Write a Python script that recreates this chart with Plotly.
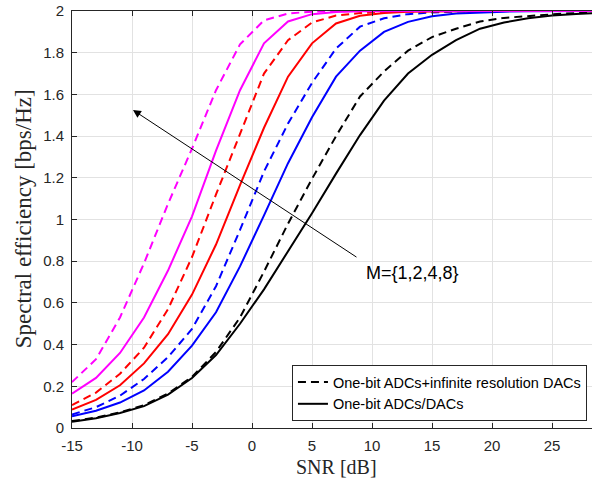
import plotly.graph_objects as go

snr = [-15, -13, -11, -9, -7, -5, -3, -1, 1, 3, 5, 7, 9, 11, 13, 15, 17, 19, 21, 23, 25, 27, 29]

# One-bit ADCs/DACs (solid)
m1_solid = [0.03, 0.047, 0.072, 0.105, 0.16, 0.24, 0.35, 0.50, 0.665, 0.845, 1.03, 1.22, 1.405, 1.57, 1.70, 1.79, 1.86, 1.915, 1.945, 1.965, 1.978, 1.986, 1.99]
m2_solid = [0.056, 0.083, 0.122, 0.18, 0.27, 0.395, 0.555, 0.775, 1.02, 1.27, 1.49, 1.685, 1.81, 1.9, 1.948, 1.975, 1.988, 1.994, 1.997, 1.999, 2.0, 2.0, 2.0]
m4_solid = [0.088, 0.135, 0.205, 0.31, 0.45, 0.64, 0.88, 1.165, 1.44, 1.685, 1.845, 1.94, 1.977, 1.99, 1.996, 1.998, 2.0, 2.0, 2.0, 2.0, 2.0, 2.0, 2.0]
m8_solid = [0.165, 0.24, 0.36, 0.53, 0.755, 1.015, 1.33, 1.62, 1.845, 1.95, 1.985, 1.995, 1.999, 2.0, 2.0, 2.0, 2.0, 2.0, 2.0, 2.0, 2.0, 2.0, 2.0]

# One-bit ADCs + infinite resolution DACs (dashed)
m1_dash = [0.033, 0.05, 0.075, 0.11, 0.165, 0.245, 0.365, 0.53, 0.75, 0.98, 1.195, 1.40, 1.59, 1.71, 1.81, 1.875, 1.915, 1.95, 1.967, 1.977, 1.984, 1.99, 1.994]
m2_dash = [0.065, 0.10, 0.155, 0.235, 0.34, 0.475, 0.68, 0.95, 1.23, 1.46, 1.655, 1.82, 1.925, 1.965, 1.985, 1.993, 1.997, 2.0, 2.0, 2.0, 2.0, 2.0, 2.0]
m4_dash = [0.11, 0.17, 0.26, 0.385, 0.57, 0.82, 1.12, 1.41, 1.70, 1.86, 1.945, 1.978, 1.99, 1.996, 1.998, 2.0, 2.0, 2.0, 2.0, 2.0, 2.0, 2.0, 2.0]
m8_dash = [0.22, 0.33, 0.53, 0.79, 1.075, 1.34, 1.62, 1.84, 1.955, 1.988, 1.997, 2.0, 2.0, 2.0, 2.0, 2.0, 2.0, 2.0, 2.0, 2.0, 2.0, 2.0, 2.0]

x_ticks = [-15, -10, -5, 0, 5, 10, 15, 20, 25]
x_tick_labels = ["-15", "-10", "-5", "0", "5", "10", "15", "20", "25"]
y_ticks = [0, 0.2, 0.4, 0.6, 0.8, 1, 1.2, 1.4, 1.6, 1.8, 2]
y_tick_labels = ["0", "0.2", "0.4", "0.6", "0.8", "1", "1.2", "1.4", "1.6", "1.8", "2"]

legend_dash = "One-bit ADCs+infinite resolution DACs"
legend_solid = "One-bit ADCs/DACs"
annot_text = "M={1,2,4,8}"

DASH = "8px,5px"
fig = go.Figure()

series = [
    (m1_dash, "black", DASH, True, legend_dash),
    (m1_solid, "black", "solid", True, legend_solid),
    (m2_dash, "#0000ff", DASH, False, None),
    (m2_solid, "#0000ff", "solid", False, None),
    (m4_dash, "#ff0000", DASH, False, None),
    (m4_solid, "#ff0000", "solid", False, None),
    (m8_dash, "#ff00ff", DASH, False, None),
    (m8_solid, "#ff00ff", "solid", False, None),
]
for vals, col, dash, show, name in series:
    fig.add_trace(go.Scatter(
        x=snr, y=vals, mode="lines",
        line=dict(color=col, width=2, dash=dash),
        showlegend=show, name=name if name else "",
    ))

axis_col = "#262626"
fig.update_xaxes(
    range=[-15, 28.33], tickvals=x_ticks, ticktext=x_tick_labels,
    showgrid=True, gridcolor="#e2e2e2", gridwidth=1, zeroline=False,
    showline=True, linecolor=axis_col, linewidth=1, mirror="ticks",
    ticks="inside", ticklen=5, tickcolor=axis_col, ticklabelstandoff=4,
    tickfont=dict(family="Liberation Sans, Arial, sans-serif", size=15, color=axis_col),
)
fig.update_yaxes(
    range=[0, 2], tickvals=y_ticks, ticktext=y_tick_labels,
    showgrid=True, gridcolor="#e2e2e2", gridwidth=1, zeroline=False,
    showline=True, linecolor=axis_col, linewidth=1, mirror=False,
    ticks="inside", ticklen=5, tickcolor=axis_col, ticklabelstandoff=4,
    tickfont=dict(family="Liberation Sans, Arial, sans-serif", size=15, color=axis_col),
)

fig.add_annotation(
    x=-9.92, y=1.525, ax=8.83, ay=0.815, xref="x", yref="y", axref="x", ayref="y",
    text="", showarrow=True, arrowhead=2, arrowsize=1.6, arrowwidth=1, arrowcolor="black",
)
fig.add_annotation(
    x=9.33, y=0.743, xref="x", yref="y", text=annot_text, showarrow=False,
    xanchor="left", yanchor="middle",
    font=dict(family="Liberation Sans, Arial, sans-serif", size=18, color="black"),
)
fig.add_annotation(
    x=0.508, y=-0.0935, xref="paper", yref="paper", text="SNR [dB]", showarrow=False,
    xanchor="center", yanchor="middle", borderpad=0,
    font=dict(family="Liberation Serif, Times New Roman, serif", size=20, color=axis_col),
)
fig.add_annotation(
    x=-0.094, y=0.501, xref="paper", yref="paper", text="Spectral efficiency [bps/Hz]",
    showarrow=False, textangle=-90, xanchor="center", yanchor="middle",
    font=dict(family="Liberation Serif, Times New Roman, serif", size=23, color=axis_col),
)

fig.update_layout(
    width=592, height=480,
    margin=dict(l=72, r=0, t=11, b=52),
    paper_bgcolor="white", plot_bgcolor="white",
    legend=dict(
        x=0.423, y=0.151, xanchor="left", yanchor="top",
        bgcolor="white", bordercolor=axis_col, borderwidth=1,
        font=dict(family="Liberation Sans, Arial, sans-serif", size=14.5, color="black"),
        tracegroupgap=0, itemwidth=30,
    ),
)

fig.write_html(
    "out.html",
    config={"displayModeBar": False},
    post_script="document.body.style.margin='0';document.body.style.overflow='hidden';",
)
